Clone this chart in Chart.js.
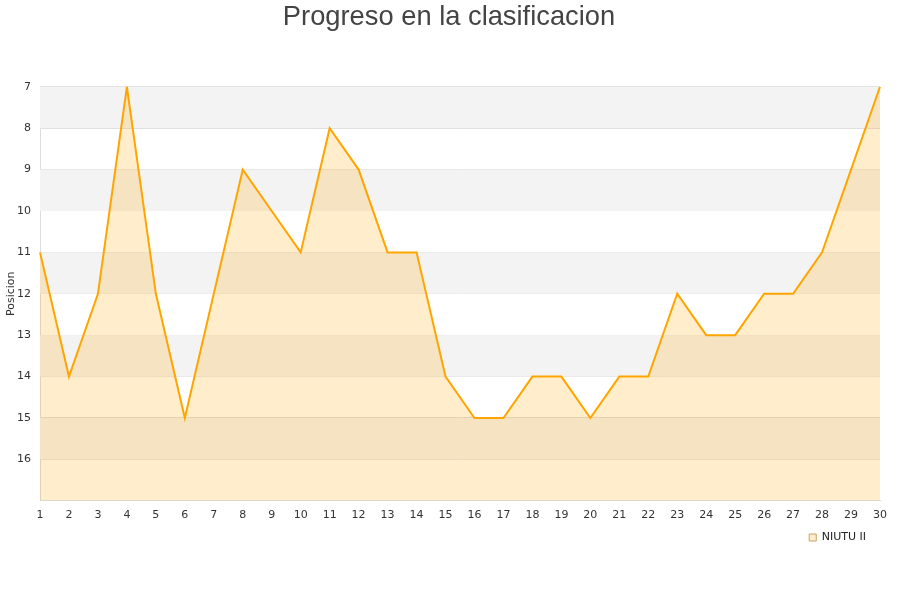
<!DOCTYPE html>
<html>
<head>
<meta charset="utf-8">
<script src="https://cdn.jsdelivr.net/npm/chart.js@4/dist/chart.umd.min.js"></script>
<style>
  html, body { margin: 0; padding: 0; background: #fff; }
  #wrap { width: 900px; height: 600px; }
</style>
</head>
<body>
<div id="wrap"><canvas id="chart"></canvas></div>
<script>
// Data
const jornadas = Array.from({ length: 30 }, (_, i) => String(i + 1));
const posiciones = [11, 14, 12, 7, 12, 15, 12, 9, 10, 11, 8, 9, 11, 11, 14, 15, 15, 14, 14, 15, 14, 14, 12, 13, 13, 12, 12, 11, 9, 7];
const equipo = 'NIUTU II';
const posMin = 7, posMax = 17;

// Alternating grey bands behind the plot
const bands = {
  id: 'bands',
  beforeDatasetsDraw(chart) {
    const { ctx, chartArea } = chart;
    const y = chart.scales.y;
    ctx.save();
    ctx.fillStyle = '#f3f3f3';
    for (let v = posMin; v < posMax; v += 2) {
      const top = y.getPixelForValue(v);
      const bot = y.getPixelForValue(v + 1);
      ctx.fillRect(chartArea.left, top, chartArea.right - chartArea.left, bot - top);
    }
    ctx.restore();
  }
};

// centre the title on the page and pull the legend in from the edge
const nudge = {
  id: 'nudge',
  afterLayout(chart) {
    if (chart.legend) chart.legend.right -= 12;
    if (chart.titleBlock) {
      chart.titleBlock.left += 9;
      chart.titleBlock.right += 9;
    }
  }
};

new Chart(document.getElementById('chart'), {
  type: 'line',
  data: {
    labels: jornadas,
    datasets: [{
      label: equipo,
      data: posiciones,
      borderColor: '#ffa500',
      backgroundColor: 'rgba(255,165,0,0.2)',
      borderWidth: 2,
      pointRadius: 0,
      tension: 0,
      fill: 'start'
    }]
  },
  options: {
    responsive: true,
    maintainAspectRatio: false,
    animation: false,
    layout: { padding: { left: 0, right: 20, top: 1, bottom: 47 } },
    plugins: {
      title: {
        display: true,
        text: 'Progreso en la clasificacion',
        color: '#444',
        font: { family: 'Liberation Sans', size: 27.3, weight: 'normal' },
        padding: { top: 0, bottom: 53 }
      },
      legend: {
        position: 'bottom',
        align: 'end',
        fullSize: false,
        labels: {
          color: '#222',
          font: { family: 'DejaVu Sans', size: 11 },
          boxWidth: 7,
          boxHeight: 7,
          padding: 2,
          generateLabels(chart) {
            const items = Chart.defaults.plugins.legend.labels.generateLabels(chart);
            items.forEach(it => { it.lineWidth = 1; it.strokeStyle = '#c8a060'; });
            return items;
          }
        }
      },
      tooltip: { enabled: false }
    },
    scales: {
      x: {
        offset: false,
        grid: { display: false, drawTicks: false },
        border: { color: '#ddd' },
        ticks: {
          color: '#333',
          font: { family: 'DejaVu Sans', size: 11 },
          maxRotation: 0,
          autoSkip: false,
          padding: 8
        }
      },
      y: {
        reverse: true,
        min: posMin,
        max: posMax,
        afterFit(scale) { scale.width = 40; },
        grid: { color: '#ddd', drawTicks: false },
        border: { color: '#ddd' },
        ticks: {
          stepSize: 1,
          color: '#333',
          font: { family: 'DejaVu Sans', size: 11 },
          padding: 9,
          callback: v => (v === posMax ? '' : v)
        },
        title: {
          display: true,
          text: 'Posicion',
          color: '#333',
          font: { family: 'DejaVu Sans', size: 11 },
          padding: 5
        }
      }
    }
  },
  plugins: [bands, nudge]
});
</script>
</body>
</html>
